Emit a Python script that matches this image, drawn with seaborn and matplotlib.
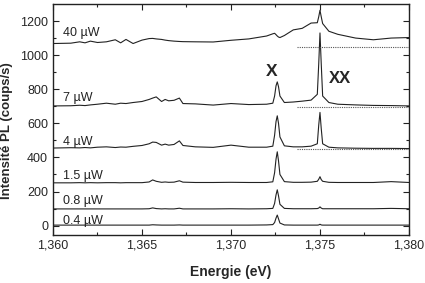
import numpy as np
import matplotlib
matplotlib.use("Agg")
import matplotlib.pyplot as plt
import seaborn as sns

# Photon energy grid (eV), shared by all spectra
energy = [
    1.3600, 1.3610, 1.3615, 1.3618, 1.3621, 1.3625, 1.3630, 1.3635, 1.3638, 1.3641,
    1.3645, 1.3650, 1.3654, 1.3656, 1.3658, 1.3661, 1.3663, 1.3665, 1.3668, 1.3671,
    1.3673, 1.3680, 1.3690, 1.3700, 1.3710, 1.3720, 1.37235, 1.37245, 1.37253, 1.3726,
    1.37267, 1.37275, 1.3730, 1.3735, 1.3740, 1.3745, 1.37485, 1.37493, 1.3750, 1.37507,
    1.37515, 1.3755, 1.3760, 1.3770, 1.3780, 1.3790, 1.3800]

# PL intensity (counts/s), spectra offset vertically
pl_04 = [
    3, 3, 3, 3, 3, 3, 3, 3, 3, 3,
    3, 3, 3, 5, 4, 3, 3, 3, 3, 4,
    3, 3, 3, 3, 3, 4, 6, 18, 44, 62,
    40, 15, 4, 3, 3, 3, 3, 4, 8, 4,
    3, 3, 3, 3, 3, 3, 3]
pl_08 = [
    98, 98, 98, 98, 98, 98, 98, 98, 98, 98,
    98, 98, 99, 104, 100, 98, 99, 98, 98, 102,
    98, 98, 98, 99, 98, 99, 101, 130, 180, 210,
    175, 125, 101, 99, 99, 99, 100, 103, 110, 103,
    99, 99, 99, 99, 99, 101, 99]
pl_15 = [
    251, 251, 252, 251, 252, 251, 252, 252, 251, 252,
    252, 252, 256, 268, 260, 254, 256, 254, 255, 263,
    255, 253, 253, 254, 253, 253, 257, 310, 390, 433,
    380, 300, 258, 254, 254, 255, 260, 272, 287, 270,
    260, 254, 253, 253, 253, 258, 253]
pl_4 = [
    455, 457, 456, 458, 456, 460, 462, 458, 461, 460,
    465, 470, 480, 490, 488, 472, 478, 472, 476, 497,
    470, 462, 459, 472, 460, 460, 466, 530, 610, 644,
    600, 520, 468, 462, 462, 466, 480, 590, 664, 570,
    480, 460, 456, 454, 453, 453, 452]
pl_7 = [
    702, 703, 706, 704, 708, 712, 718, 712, 718, 716,
    722, 728, 740, 748, 755, 728, 740, 732, 735, 748,
    716, 714, 707, 716, 710, 712, 718, 760, 820, 843,
    815, 760, 722, 725, 730, 736, 770, 950, 1130, 950,
    760, 722, 712, 708, 705, 704, 702]
pl_40 = [
    1068, 1070, 1078, 1072, 1082, 1074, 1078, 1090, 1072, 1092,
    1068, 1088, 1097, 1098, 1095, 1092, 1088, 1085, 1082, 1080,
    1079, 1078, 1077, 1087, 1095, 1112, 1125, 1128, 1120, 1112,
    1106, 1103, 1115, 1148, 1157, 1188, 1190, 1225, 1263, 1225,
    1185, 1140, 1122, 1100, 1090, 1100, 1103]

spectra = [pl_04, pl_08, pl_15, pl_4, pl_7, pl_40]
power_labels = ["0.4 \u00b5W", "0.8 \u00b5W", "1.5 \u00b5W", "4 \u00b5W", "7 \u00b5W", "40 \u00b5W"]
label_levels = [27, 145, 293, 492, 749, 1128]

# dotted baselines on the right
baseline_levels = [449, 697, 1048]
baseline_start = 1.3737

x_ticks = [1.360, 1.365, 1.370, 1.375, 1.380]
x_ticklabels = ["1,360", "1,365", "1,370", "1,375", "1,380"]
y_ticks = [0, 200, 400, 600, 800, 1000, 1200]

sns.set_style("ticks")
plt.rcParams["font.family"] = ["Liberation Sans", "DejaVu Sans"]
plt.rcParams["xtick.direction"] = "in"
plt.rcParams["ytick.direction"] = "in"

fig = plt.figure(figsize=(4.25, 2.83), dpi=100)
ax = fig.add_axes([0.1247, 0.1696, 0.8376, 0.8164])

for pl in spectra:
    sns.lineplot(x=energy, y=pl, ax=ax, color="#222222", linewidth=0.8,
                 sort=False, estimator=None)

for lvl in baseline_levels:
    ax.hlines(lvl, baseline_start, 1.380, colors="#555555", linestyles=(0, (1, 1)),
              linewidth=0.8)

for lab, lvl in zip(power_labels, label_levels):
    ax.text(1.36057, lvl, lab, fontsize=9, va="center", ha="left", color="#222222")

ax.text(1.3723, 901, "X", fontsize=12.5, fontweight="bold", ha="center", va="center")
ax.text(1.3761, 863, "XX", fontsize=12, fontweight="bold", ha="center", va="center")

ax.set_xlim(1.360, 1.380)
ax.set_ylim(-55, 1300)
ax.set_xticks(x_ticks)
ax.set_xticklabels(x_ticklabels)
ax.set_yticks(y_ticks)
ax.set_xticks([1.3625, 1.3675, 1.3725, 1.3775], minor=True)
ax.set_yticks([100, 300, 500, 700, 900, 1100], minor=True)
ax.tick_params(which="both", top=True, right=True, labelsize=9, color="#222222")
ax.tick_params(which="major", length=4, width=0.8)
ax.tick_params(which="minor", length=2.5, width=0.8)
for sp in ax.spines.values():
    sp.set_linewidth(1.0)
    sp.set_color("#222222")

ax.set_xlabel("Energie (eV)", fontsize=10, fontweight="bold")
ax.set_ylabel("Intensité PL (coups/s)", fontsize=9.5, fontweight="bold")
ax.yaxis.set_label_coords(-0.112, 0.45)
ax.xaxis.set_label_coords(0.5, -0.13)

fig.savefig("out.png", dpi=100)
